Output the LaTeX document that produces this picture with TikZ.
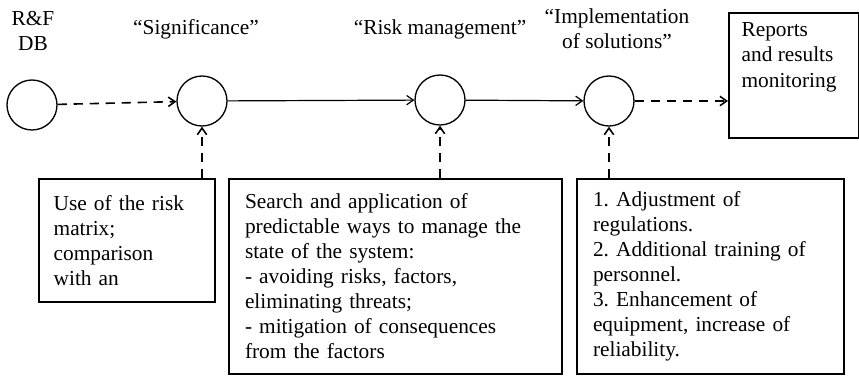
\documentclass[tikz,border=0pt]{standalone}
\usepackage{fontspec}
\setmainfont{Liberation Serif}
\usetikzlibrary{arrows.meta,automata,positioning}

\begin{document}
\frenchspacing
\begin{tikzpicture}[x=0.75pt, y=-0.75pt, font=\fontsize{16}{18.8}\selectfont,
    every state/.style={draw, circle, line width=1pt, minimum size=37.5pt, inner sep=0pt},
    textbox/.style={draw, line width=1.5pt, anchor=north west, align=left, inner ysep=0pt},
    flow/.style={-{Straight Barb[length=5pt,width=7pt]}, line width=0.9pt},
    feed/.style={flow, line width=1.2pt, dash pattern=on 7pt off 5pt}]
    \useasboundingbox (0,0) rectangle (859,375);

    \node[state] (db) at (32,105) {};
    \node[state] (sig) at (202,101) {};
    \node[state] (risk) at (440,100) {};
    \node[state] (impl) at (609,101) {};

    \node[align=center] at (33,31) {R\&F\\DB};
    \node at (196,29) {``Significance''};
    \node at (440,29) {``Risk management''};
    \node[align=center] at (617,29) {``Implementation\\of solutions''};

    \node[textbox, minimum width=97.5pt, minimum height=94pt] (rep) at (728,12) {};
    \node[anchor=north west, align=left, inner sep=0pt]
        at ([xshift=10pt, yshift=-8pt]rep.north west) {Reports\\and results\\monitoring};
    \coordinate (repin) at (rep.west |- impl);

    \node[textbox, inner xsep=11pt, text width=110pt, minimum height=92pt] (use) at (38,178)
        {Use of the risk\\matrix;\\comparison\\with an};
    \node[textbox, inner xsep=12pt, text width=226pt, minimum height=146pt] (search) at (228,178)
        {Search and application of\\predictable ways to manage the\\state of the system:\\- avoiding risks, factors,\\eliminating threats;\\- mitigation of consequences\\from the factors};
    \node[textbox, inner xsep=12pt, text width=176pt, minimum height=146pt] (steps) at (576,178)
        {1. Adjustment of\\regulations.\\2. Additional training of\\personnel.\\3. Enhancement of\\equipment, increase of\\reliability.};

    \draw[feed] (db) -- (sig);
    \draw[flow] (sig) -- (risk);
    \draw[flow] (risk) -- (impl);
    \draw[feed] (impl) -- (repin);

    \draw[feed] (sig |- use.north) -- (sig);
    \draw[feed] (risk |- search.north) -- (risk);
    \draw[feed] (impl |- steps.north) -- (impl);
\end{tikzpicture}
\end{document}
